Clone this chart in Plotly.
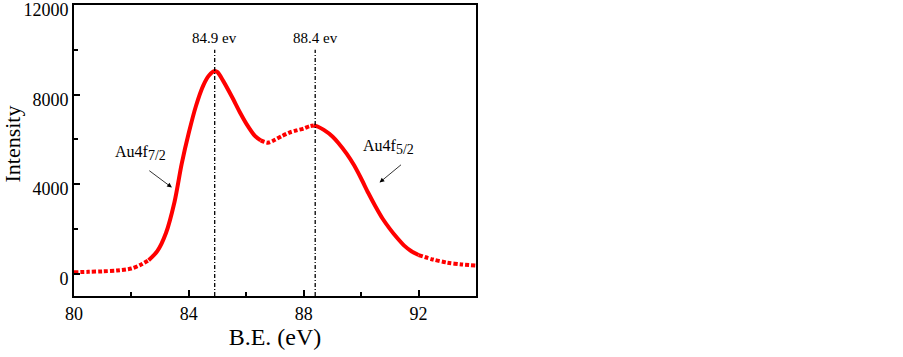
import plotly.graph_objects as go

# ---- data ----
be = [80.0, 80.5, 81.0, 81.5, 82.0, 82.3, 82.6, 82.9, 83.2, 83.5, 83.75, 84.0,
      84.25, 84.5, 84.7, 84.9, 85.0, 85.2, 85.5, 85.8, 86.0, 86.3, 86.5, 86.75,
      87.0, 87.25, 87.5, 87.75, 88.0, 88.2, 88.35, 88.5, 88.7, 89.0, 89.2, 89.5,
      89.75, 90.0, 90.25, 90.5, 90.75, 91.0, 91.25, 91.5, 91.75, 92.0, 92.5,
      93.0, 93.5, 94.0]
intensity = [60, 80, 100, 140, 230, 380, 600, 1000, 1800, 3200, 4900, 6300,
             7500, 8400, 8850, 9050, 9000, 8600, 7900, 7150, 6700, 6150, 5950, 5850,
             5980, 6150, 6300, 6400, 6480, 6580, 6620, 6560, 6420, 6130, 5850, 5350,
             4850, 4250, 3600, 3000, 2450, 2000, 1600, 1250, 1000, 830, 630,
             490, 410, 360]

peak_positions = [84.9, 88.4]
peak_labels = ["84.9 ev", "88.4 ev"]
marker_top = 10000

x_ticks = [80, 84, 88, 92]
x_minor = [82, 86, 90]
y_ticks = [0, 4000, 8000, 12000]
y_minor = [2000, 6000, 10000]

FONT = "Liberation Serif, Times New Roman, serif"
RED = "#ff0000"

fig = go.Figure()

# curve drawn in segments: dotted where flat, solid where steep
segments = [(80.0, 82.6, "4px,2px"), (82.6, 86.5, "solid"),
            (86.5, 88.35, "4px,2px"), (88.35, 92.0, "solid"), (92.0, 94.0, "4px,2px")]
for lo, hi, dash in segments:
    xs = [x for x in be if lo <= x <= hi]
    ys = [y for x, y in zip(be, intensity) if lo <= x <= hi]
    fig.add_trace(go.Scatter(x=xs, y=ys, mode="lines",
                             line=dict(color=RED, width=4, dash=dash, shape="spline", smoothing=0.8),
                             showlegend=False, hoverinfo="skip"))

# vertical reference lines
for xp, lab in zip(peak_positions, peak_labels):
    fig.add_trace(go.Scatter(x=[xp, xp], y=[-1000, marker_top], mode="lines",
                             line=dict(color="black", width=1.3, dash="4px,2px,1px,2px"),
                             showlegend=False, hoverinfo="skip"))
    fig.add_annotation(x=xp, y=marker_top, yshift=2, text=lab, showarrow=False,
                       yanchor="bottom", font=dict(family=FONT, size=15, color="black"))

# peak labels with arrows
fig.add_annotation(x=82.3, y=5400,
                   text="Au4f<sub><span style='font-size:14px'>7/2</span></sub>",
                   showarrow=False, font=dict(family=FONT, size=16, color="black"))
fig.add_annotation(x=83.41, y=3844, ax=82.57, ay=4648, axref="x", ayref="y",
                   text="", showarrow=True, arrowhead=2, arrowsize=1.2, arrowwidth=0.8,
                   arrowcolor="black")
fig.add_annotation(x=90.96, y=5650,
                   text="Au4f<sub><span style='font-size:14px'>5/2</span></sub>",
                   showarrow=False, font=dict(family=FONT, size=16, color="black"))
fig.add_annotation(x=90.64, y=4067, ax=91.44, ay=4916, axref="x", ayref="y",
                   text="", showarrow=True, arrowhead=2, arrowsize=1.2, arrowwidth=0.8,
                   arrowcolor="black")

# y-axis title as annotation (placed slightly above the plot centre, as in the reference)
fig.add_annotation(xref="paper", x=0, xanchor="right", xshift=-47, y=5790, yref="y",
                   text="Intensity", textangle=-90, showarrow=False,
                   font=dict(family=FONT, size=22, color="black"))

axis_common = dict(showgrid=False, zeroline=False, showline=True, linecolor="black",
                   linewidth=2, mirror=True, ticks="inside", ticklen=6, tickwidth=1.5,
                   tickcolor="black", automargin=False, ticklabeloverflow="allow",
                   tickfont=dict(family=FONT, size=18, color="black"))

fig.update_xaxes(range=[80, 94], tickvals=x_ticks, ticktext=[str(v) for v in x_ticks],
                 minor=dict(tickvals=x_minor, ticks="inside", ticklen=4, tickwidth=1.5, tickcolor="black"),
                 title=dict(text="B.E. (eV)", font=dict(family=FONT, size=24, color="black"), standoff=6),
                 **axis_common)
fig.update_yaxes(range=[-1000, 12000], tickvals=y_ticks, ticktext=[str(v) for v in y_ticks],
                 minor=dict(tickvals=y_minor, ticks="inside", ticklen=4, tickwidth=1.5, tickcolor="black"),
                 ticklabelshift=5,
                 **axis_common)

fig.update_layout(width=903, height=357, autosize=False,
                  margin=dict(l=74, r=427, t=5, b=61),
                  plot_bgcolor="white", paper_bgcolor="white")

fig.write_html("out.html", config={"displayModeBar": False},
               post_script="document.body.style.margin='0';document.body.style.overflow='hidden';")
